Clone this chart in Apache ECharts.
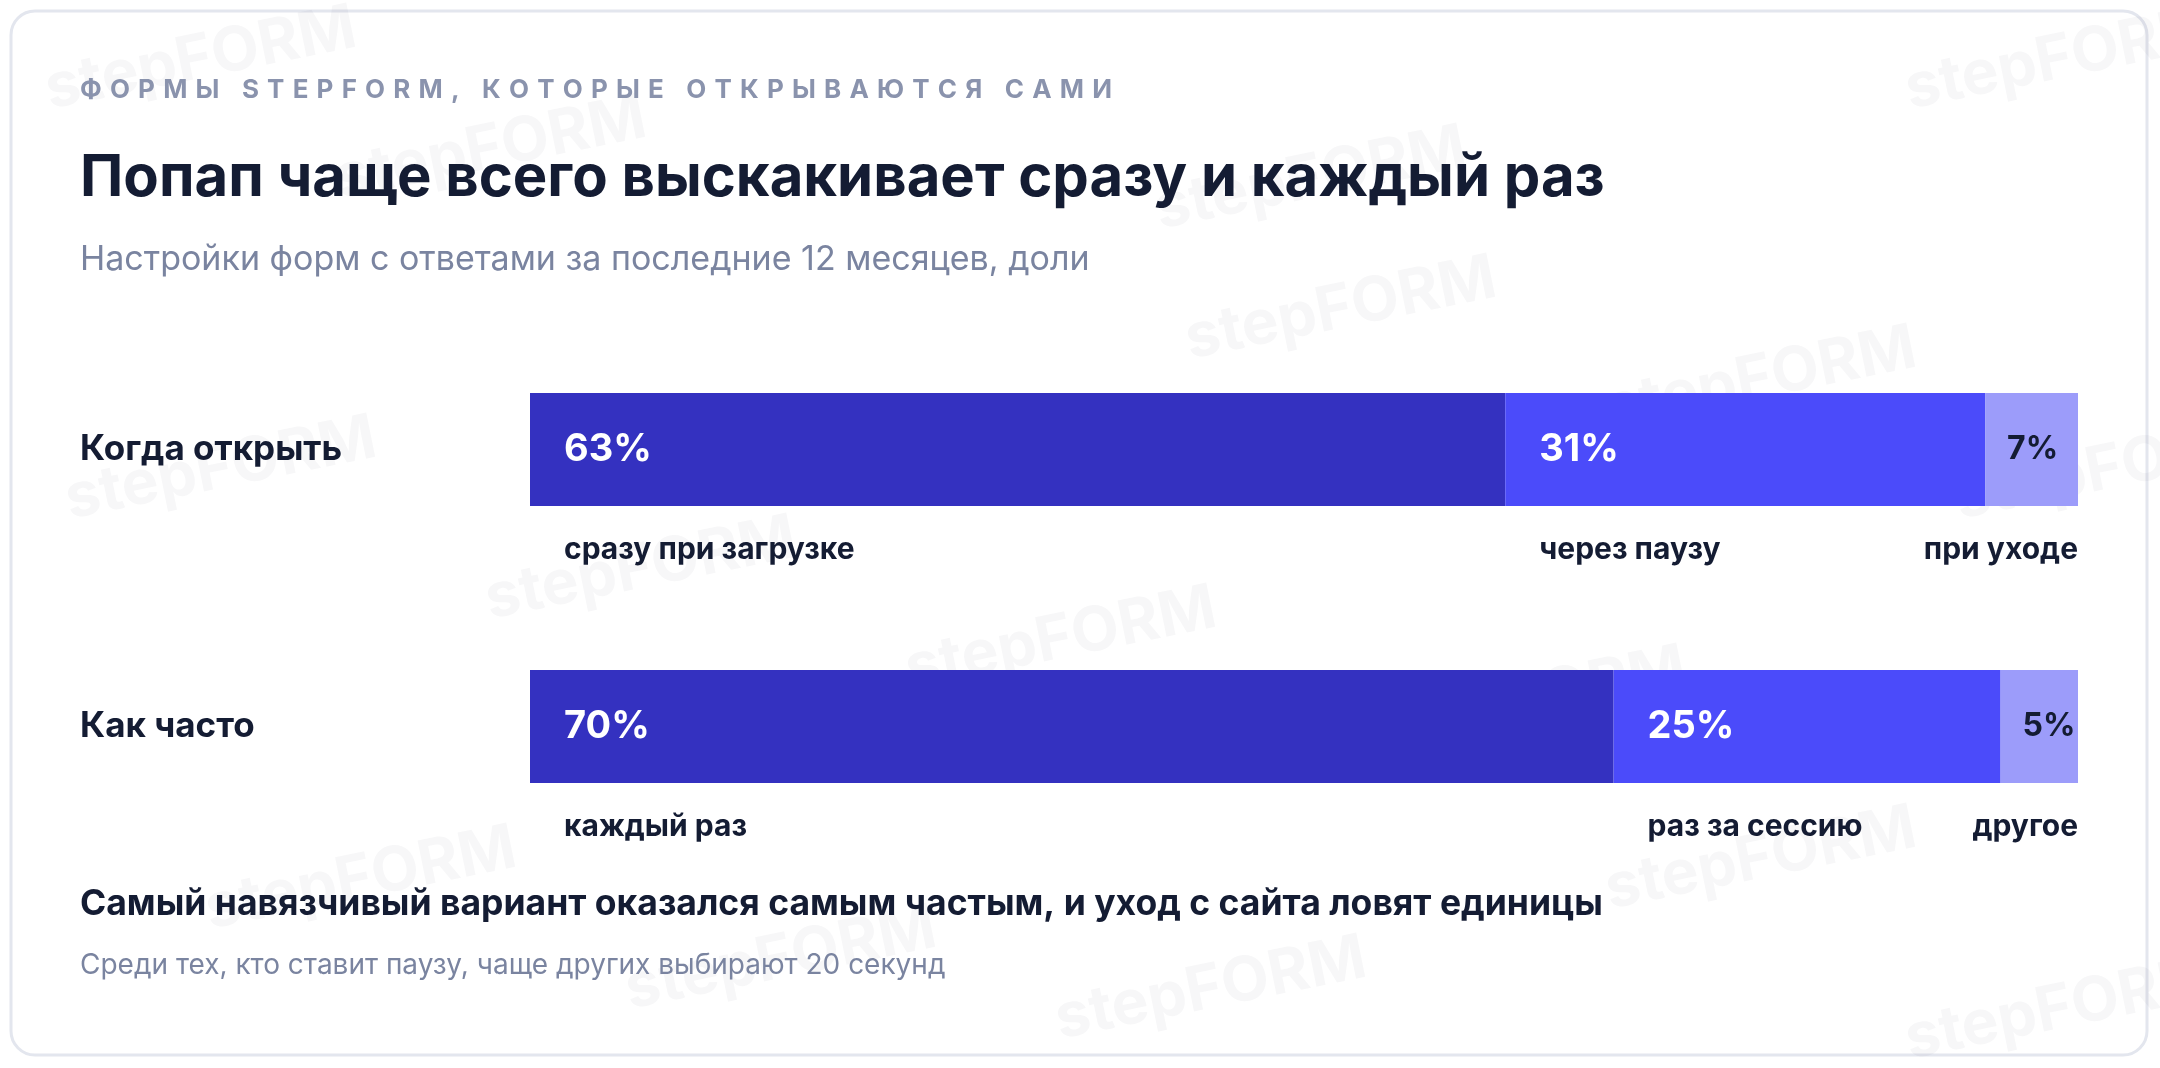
<!DOCTYPE html>
<html><head><meta charset="utf-8">
<script src="https://cdn.jsdelivr.net/npm/echarts@6/dist/echarts.min.js"></script>
<style>html,body{margin:0;padding:0;background:#fff}#c{width:2160px;height:1068px}</style>
</head><body><div id="c"></div>
<script>
const rows = ['Когда открыть', 'Как часто'];
const seg1 = [63, 70];
const seg2 = [31, 25];
const seg3 = [7, 5];
const names1 = ['сразу при загрузке', 'каждый раз'];
const names2 = ['через паузу', 'раз за сессию'];
const names3 = ['при уходе', 'другое'];
const colors = ['#3431C0', '#4B4BFA', '#9C9CFA'];
const F = 'Inter, "Noto Sans", sans-serif';
const segs = [seg1, seg2, seg3], names = [names1, names2, names3];

const series = [];
segs.forEach((s, k) => {
  series.push({
    type: 'bar', stack: 'a', barWidth: 113, barGap: '-100%', clip: true,
    data: s.map(v => ({value: v, raw: v})),
    itemStyle: {color: colors[k]},
    label: {show: true, position: 'insideLeft', distance: k === 2 ? 22 : 34,
      formatter: p => p.data.raw + '%', fontFamily: F, fontWeight: 'bold',
      fontSize: k === 2 ? 32 : 38, color: k === 2 ? '#141c33' : '#fff'},
    emphasis: {disabled: true}, silent: true
  });
});
segs.slice(0, 2).forEach((s, k) => {
  series.push({
    type: 'bar', stack: 'b', barWidth: 113, barGap: '-100%', clip: true,
    data: s.map((v, i) => ({value: v, nm: names[k][i]})),
    itemStyle: {color: 'transparent'},
    label: {show: true, position: [34, 157], align: 'left', verticalAlign: 'middle',
      formatter: p => p.data.nm, fontFamily: F, fontWeight: 'bold', fontSize: 30, color: '#141c33'},
    emphasis: {disabled: true}, silent: true
  });
});
series.push({
  type: 'scatter', symbolSize: 0, silent: true, itemStyle: {opacity: 1},
  data: rows.map((r, i) => ({value: [100, i], nm: names3[i]})),
  label: {show: true, position: [0, 100], align: 'right', verticalAlign: 'middle', opacity: 1,
    formatter: p => p.data.nm, fontFamily: F, fontWeight: 'bold', fontSize: 30, color: '#141c33'}
});

const overline = 'ФОРМЫ STEPFORM, КОТОРЫЕ ОТКРЫВАЮТСЯ САМИ'.split('').join('\u2009\u2009');
const wm = [[40,60],[330,150],[1150,180],[1900,60],[1180,310],[1600,380],[60,470],[480,570],[900,640],[1370,700],[1950,470],[200,880],[620,960],[1050,990],[1600,860],[1900,1010]];
const graphics = [
  {type:'rect', shape:{x:11,y:11,width:2136,height:1044,r:24}, style:{fill:'#fff',stroke:'#e3e6ee',lineWidth:3}, z:-10},
  ...wm.map(p => ({type:'text', x:p[0], y:p[1], rotation:0.2, z:-5,
    style:{text:'stepFORM', font:'bold 62px '+F, fill:'rgba(20,28,51,0.035)'}})),
  {type:'text', left:80, top:77, style:{text:overline, font:'bold 26px '+F, fill:'#8a93ad'}},
  {type:'text', left:80, top:150, style:{text:'Попап чаще всего выскакивает сразу и каждый раз', font:'bold 58px '+F, fill:'#141c33'}},
  {type:'text', left:80, top:243, style:{text:'Настройки форм с ответами за последние 12 месяцев, доли', font:'34px '+F, fill:'#7a84a0'}},
  {type:'text', left:80, top:886, style:{text:'Самый навязчивый вариант оказался самым частым, и уход с сайта ловят единицы', font:'bold 35.5px '+F, fill:'#141c33'}},
  {type:'text', left:80, top:952, style:{text:'Среди тех, кто ставит паузу, чаще других выбирают 20 секунд', font:'28px '+F, fill:'#7a84a0'}}
];

const chart = echarts.init(document.getElementById('c'));
chart.setOption({
  animation: false,
  graphic: graphics,
  grid: {left: 530, right: 82, top: 311, height: 554},
  xAxis: {type: 'value', min: 0, max: 100, show: false},
  yAxis: {type: 'category', data: rows, inverse: true,
    axisLine: {show: false}, axisTick: {show: false},
    axisLabel: {fontFamily: F, fontWeight: 'bold', fontSize: 35, color: '#141c33', align: 'left', margin: 450}},
  series: series
});
</script></body></html>
